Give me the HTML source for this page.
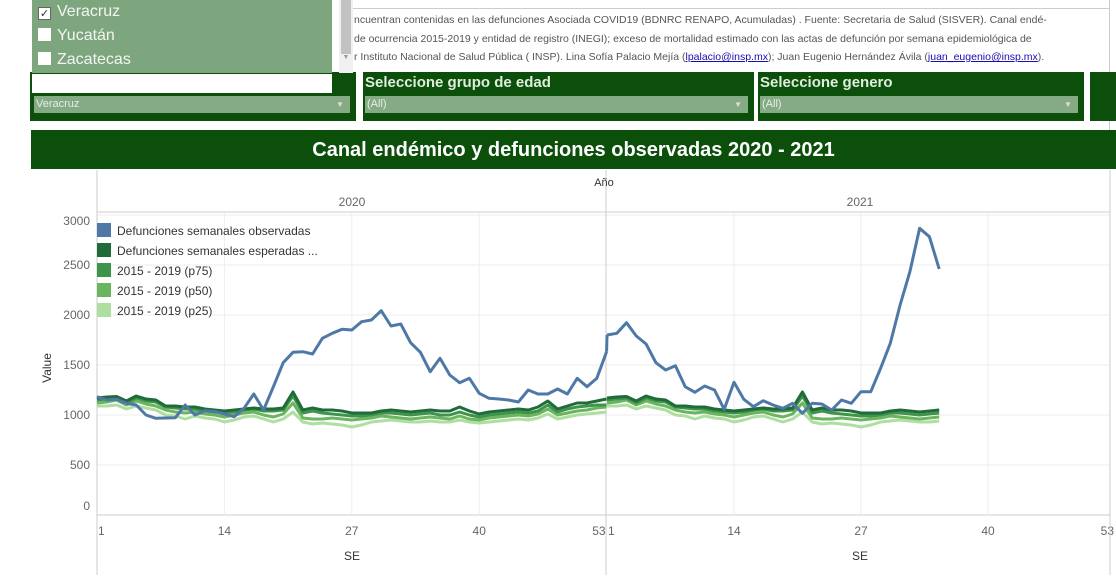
<!DOCTYPE html>
<html><head><meta charset="utf-8">
<style>
body{margin:0;width:1116px;height:577px;overflow:hidden;background:#fff;font-family:"Liberation Sans",sans-serif;position:relative}
.abs{position:absolute}
.note{font-size:10.5px;color:#555;white-space:nowrap;line-height:18.5px}
.note a{color:#1a0dab;text-decoration:underline}
.flt{background:#0b4f0b;color:#dfeedd;font-weight:bold;font-size:15px}
.dd{position:absolute;left:4px;right:6px;top:24px;height:17px;background:#84ab84;color:#e6efe6;font-size:11px;font-weight:normal;line-height:17px;padding-left:2px}
.dd span{position:absolute;right:6px;font-size:8px;color:#ddd}
.opt{font-size:16px;color:#f2f6f2;height:24px;line-height:24px;padding-left:6px}
.cb{display:inline-block;width:13px;height:13px;background:#fff;vertical-align:-1px;margin-right:6px;font-size:11px;color:#333;line-height:13px;text-align:center;border:1px solid #666;box-sizing:border-box}
</style></head><body>
<div class="abs" style="left:340px;top:8px;width:770px;height:1px;background:#ccc"></div>
<div class="abs note" style="left:354px;top:11px">
ncuentran contenidas en las defunciones Asociada COVID19 (BDNRC RENAPO, Acumuladas) . Fuente: Secretaria de Salud (SISVER). Canal endé-<br>
de ocurrencia 2015-2019 y entidad de registro (INEGI); exceso de mortalidad estimado con las actas de defunción por semana epidemiológica de<br>
r Instituto Nacional de Salud Pública ( INSP). Lina Sofía Palacio Mejía (<a>lpalacio@insp.mx</a>); Juan Eugenio Hernández Ávila (<a>juan_eugenio@insp.mx</a>).
</div>
<div class="abs" style="left:1109px;top:0;width:1px;height:130px;background:#ccc"></div>

<div class="abs flt" style="left:30px;top:72px;width:326px;height:49px">
<div class="dd">Veracruz<span>▼</span></div></div>
<div class="abs" style="left:32px;top:74px;width:300px;height:19px;background:#fff"></div>
<div class="abs" style="left:32px;top:0;width:300px;height:73px;background:#7ea67e">
<div class="opt"><span class="cb">✓</span>Veracruz</div>
<div class="opt"><span class="cb" style="border:none"></span>Yucatán</div>
<div class="opt"><span class="cb" style="border:none"></span>Zacatecas</div>
</div>
<div class="abs" style="left:339px;top:0;width:14px;height:73px;background:#f0f0f0"><div style="margin:0 2px;height:54px;background:#c2c2c2"></div><div style="text-align:center;font-size:7px;color:#999">▼</div></div>

<div class="abs flt" style="left:363px;top:72px;width:391px;height:49px"><div style="padding:2px 2px">Seleccione grupo de edad</div>
<div class="dd" style="left:2px">(All)<span>▼</span></div></div>
<div class="abs flt" style="left:758px;top:72px;width:326px;height:49px"><div style="padding:2px 2px">Seleccione genero</div>
<div class="dd" style="left:2px">(All)<span>▼</span></div></div>
<div class="abs flt" style="left:1090px;top:72px;width:26px;height:49px"></div>

<div class="abs" style="left:31px;top:130px;width:1085px;height:39px;background:#0b4f0b;color:#fff;font-size:20px;font-weight:bold;text-align:center;line-height:40px">Canal endémico y defunciones observadas 2020 - 2021</div>

<svg class="abs" style="left:0;top:0" width="1116" height="577" id="chart">
</svg>
<script>
const weeks2020=53, weeks2021=35;
const tickWeeks=[1,14,27,40,53];
const yTicks=[0,500,1000,1500,2000,2500,3000];
const observed2020=[1183,1150,1157,1117,1100,1000,967,970,973,1100,1000,1043,1035,1010,983,1067,1210,1050,1283,1523,1627,1633,1610,1767,1817,1857,1850,1933,1950,2043,1890,1910,1723,1627,1433,1567,1400,1323,1367,1217,1167,1160,1150,1130,1250,1210,1210,1260,1210,1367,1283,1367,1633];
const observed2021=[1800,1817,1923,1790,1710,1523,1450,1493,1283,1227,1290,1250,1057,1327,1157,1083,1143,1100,1067,1117,1017,1117,1110,1050,1150,1117,1233,1233,1467,1717,2100,2433,2867,2783,2460];
const expected=[1170,1180,1185,1140,1190,1160,1150,1090,1090,1080,1080,1060,1050,1040,1050,1060,1070,1060,1060,1070,1230,1050,1070,1050,1050,1040,1020,1020,1020,1040,1050,1040,1030,1040,1050,1040,1040,1080,1040,1010,1030,1040,1050,1060,1050,1080,1140,1060,1090,1120,1120,1140,1160];
const p75=[1150,1160,1170,1120,1170,1140,1130,1080,1070,1060,1060,1040,1030,1020,1030,1050,1060,1040,1040,1050,1190,1020,1040,1020,1010,1000,990,990,1000,1020,1020,1010,1000,1010,1020,1000,1000,1030,1000,980,1000,1010,1020,1030,1020,1040,1100,1030,1060,1080,1090,1100,1100];
const p50=[1120,1130,1150,1100,1140,1110,1090,1050,1030,1020,1030,1010,1000,980,1000,1020,1030,1000,980,1010,1120,970,960,960,970,960,950,960,970,990,980,970,960,970,980,970,960,990,960,950,970,980,990,1000,990,1010,1060,1000,1020,1040,1050,1070,1080];
const p25=[1090,1090,1100,1060,1090,1070,1050,1000,990,960,990,970,960,930,950,980,990,960,930,960,1030,930,910,920,910,900,880,900,930,940,950,940,930,930,940,930,930,950,930,920,930,940,950,960,950,970,1010,960,980,1000,1010,1020,1030];
const seriesNames=["Defunciones semanales observadas","Defunciones semanales esperadas ...","2015 - 2019 (p75)","2015 - 2019 (p50)","2015 - 2019 (p25)"];
const colors=["#4e79a7","#1f6b3a","#3f944b","#6bb55f","#addfa0"];

const svg=document.getElementById('chart');
const NS='http://www.w3.org/2000/svg';
function y(v){return 515-v*0.1;}
const panes=[{x0:97,step:9.8,label:'2020',cx:352},{x0:607,step:9.77,label:'2021',cx:860}];
function x(p,w){return panes[p].x0+(w-1)*panes[p].step;}
function el(t,a){const e=document.createElementNS(NS,t);for(const k in a)e.setAttribute(k,a[k]);svg.appendChild(e);return e;}
function txt(s,a){const e=el('text',a);e.textContent=s;return e;}

yTicks.forEach(v=>{
  const g=el('line',{x1:97,x2:1110,y1:y(v),y2:y(v),stroke:v===0?'#ccc':'#eee','stroke-width':1});
  
  
  const t=txt(String(v),{x:90,y:y(v)+(v===3000?10:(v===0?-5:4)),'text-anchor':'end','font-size':12,fill:'#666','font-family':'Liberation Sans'});
  
  
});
panes.forEach((p,pi)=>{
  tickWeeks.forEach((w,i)=>{
    const xx=x(pi,w);
    if(w!==1&&w!==53){const g=el('line',{x1:xx,x2:xx,y1:212,y2:515,stroke:'#eee'});
      
      }
    const anchor=w===1?'start':(w===53?'end':'middle');
    const t=txt(String(w),{x:w===1?xx+1:(w===53?xx-1:xx),y:535,'text-anchor':anchor,'font-size':12,fill:'#666','font-family':'Liberation Sans'});
    
    
  });
  const yl=txt(p.label,{x:p.cx,y:206,'text-anchor':'middle','font-size':12,fill:'#666','font-family':'Liberation Sans'});
  
  
  const se=txt('SE',{x:p.cx,y:560,'text-anchor':'middle','font-size':12,fill:'#333','font-family':'Liberation Sans'});
  
  
});
[[97,170,97,575],[606,170,606,575],[1110,170,1110,575],[97,212,1110,212]].forEach(l=>{
  const g=el('line',{x1:l[0],y1:l[1],x2:l[2],y2:l[3],stroke:'#ccc'});
  
  
});
const ano=txt('Año',{x:604,y:186,'text-anchor':'middle','font-size':11,fill:'#333','font-family':'Liberation Sans'});


const vt=txt('Value',{x:0,y:0,transform:'translate(51,368) rotate(-90)','text-anchor':'middle','font-size':12,fill:'#333','font-family':'Liberation Sans'});



function line(p,arr,n,color,name){
  let d='';for(let i=0;i<n;i++)d+=(i?'L':'M')+x(p,i+1).toFixed(1)+','+y(arr[i]).toFixed(1);
  const e=el('path',{d:d,fill:'none',stroke:color,'stroke-width':3,'stroke-linejoin':'round'});
  
  
}
const hist=[p25,p50,p75,expected];
[0,1].forEach(p=>{
  const n=p===0?weeks2020:weeks2021;
  hist.forEach((arr,i)=>line(p,arr,n,colors[4-i],'line-'+['p25','p50','p75','expected'][i]+'-'+panes[p].label));
  line(p,p===0?observed2020:observed2021,n,colors[0],'line-observed-'+panes[p].label);
});
const c=el('line',{x1:x(0,53),y1:y(observed2020[52]),x2:x(1,1),y2:y(observed2021[0]),stroke:colors[0],'stroke-width':3});



seriesNames.forEach((s,i)=>{
  const r=el('rect',{x:97,y:223+i*20,width:14,height:14,fill:colors[i]});
  
  
  const t=txt(s,{x:117,y:235+i*20,'font-size':12,fill:'#333','font-family':'Liberation Sans'});
  
  
});
</script>
</body></html>
